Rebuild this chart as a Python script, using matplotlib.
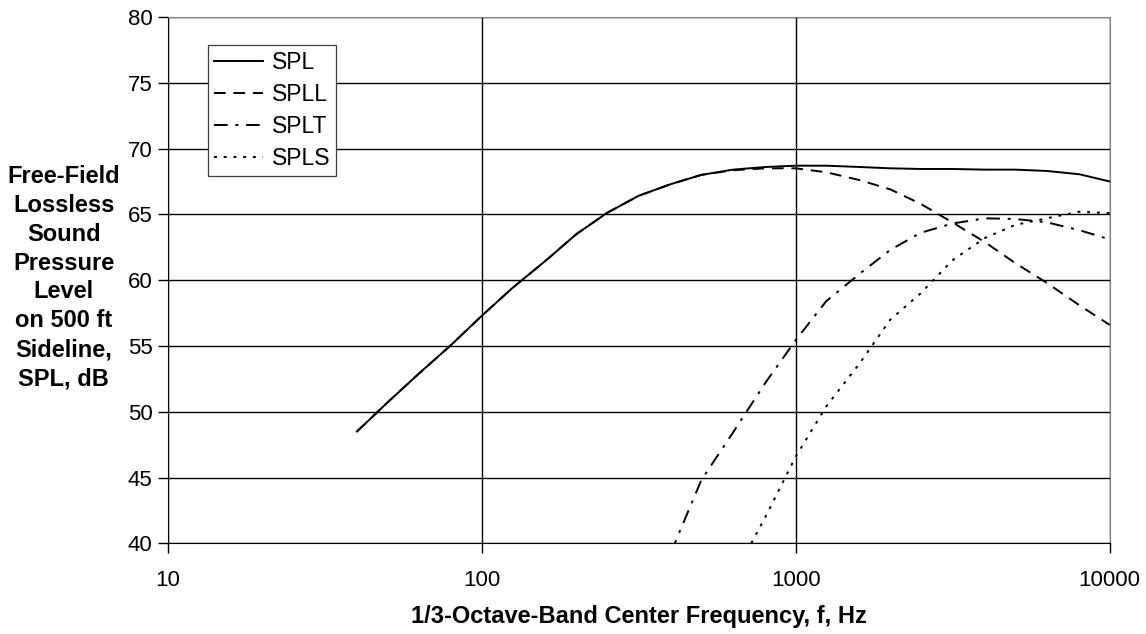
import numpy as np
import matplotlib
matplotlib.use('Agg')
from matplotlib import pyplot as plt
from matplotlib.ticker import FixedLocator, FixedFormatter, NullLocator

plt.rcParams['font.family'] = ['Liberation Sans', 'DejaVu Sans']

# 1/3-octave band centre frequencies, Hz
freq = [40, 50, 63, 80, 100, 125, 160, 200, 250, 315, 400, 500, 630, 800,
        1000, 1250, 1600, 2000, 2500, 3150, 4000, 5000, 6300, 8000, 10000]

spl = [48.5, 50.7, 52.9, 55.1, 57.3, 59.4, 61.5, 63.5, 65.1, 66.4, 67.3, 68.0,
       68.4, 68.6, 68.7, 68.7, 68.6, 68.5, 68.45, 68.45, 68.4, 68.4, 68.3, 68.05, 67.5]
spll = [48.5, 50.7, 52.9, 55.1, 57.3, 59.4, 61.5, 63.5, 65.1, 66.4, 67.3, 68.0,
        68.35, 68.5, 68.5, 68.2, 67.6, 66.9, 65.8, 64.4, 62.9, 61.3, 59.8, 58.1, 56.6]
splt_f = [400, 500, 630, 800, 1000, 1250, 1600, 2000, 2500, 3150, 4000, 5000, 6300, 8000, 10000]
splt = [39.3, 44.8, 48.4, 52.2, 55.45, 58.4, 60.5, 62.3, 63.6, 64.3, 64.7, 64.65, 64.4, 63.8, 63.1]
spls_f = [630, 800, 1000, 1250, 1600, 2000, 2500, 3150, 4000, 5000, 6300, 8000, 10000]
spls = [37.4, 42.0, 46.6, 50.4, 53.7, 57.0, 59.0, 61.5, 63.2, 64.2, 64.7, 65.2, 65.1]

xticks = [10, 100, 1000, 10000]
yticks = [40, 45, 50, 55, 60, 65, 70, 75, 80]

fig = plt.figure(figsize=(11.46, 6.34), dpi=100)
ax = fig.add_axes([0.1466, 0.143, 0.8217, 0.8302])

ax.plot(freq, spl, color='black', lw=1.4, ls='-', label='SPL')
ax.plot(freq, spll, color='black', lw=1.4, ls=(0, (6, 4)), label='SPLL')
ax.plot(splt_f, splt, color='black', lw=1.4, ls=(0, (7, 4, 1.5, 4)), label='SPLT')
ax.plot(spls_f, spls, color='black', lw=1.4, ls=(0, (1.5, 3.5)), label='SPLS')

ax.set_xscale('log')
ax.set_xlim(10, 10000)
ax.set_ylim(40, 80)
ax.xaxis.set_major_locator(FixedLocator(xticks))
ax.xaxis.set_major_formatter(FixedFormatter([str(t) for t in xticks]))
ax.xaxis.set_minor_locator(NullLocator())
ax.set_yticks(yticks)

ax.grid(True, which='major', color='black', lw=1.0)
ax.set_axisbelow(True)
ax.tick_params(direction='out', length=7, width=1, labelsize=16, pad=4)
ax.tick_params(axis='x', pad=12)
for s in ['top', 'right']:
    ax.spines[s].set_color('#808080')
for s in ['left', 'bottom']:
    ax.spines[s].set_color('black')

ax.set_xlabel('1/3-Octave-Band Center Frequency, f, Hz', fontsize=17,
              fontweight='bold', labelpad=10)
fig.text(0.0556, 0.5623, 'Free-Field\nLossless\nSound\nPressure\nLevel\non 500 ft\nSideline,\nSPL, dB',
         ha='center', va='center', fontsize=17, fontweight='bold', linespacing=1.33)

leg = ax.legend(loc='upper left', bbox_to_anchor=(0.0425, 0.9468), fontsize=16.5,
                frameon=True, fancybox=False, edgecolor='#404040', framealpha=1,
                handlelength=2.15, handletextpad=0.4, labelspacing=0.4,
                borderpad=0.25, borderaxespad=0)
leg.get_frame().set_linewidth(0.9)

fig.savefig('out.png', dpi=100)
